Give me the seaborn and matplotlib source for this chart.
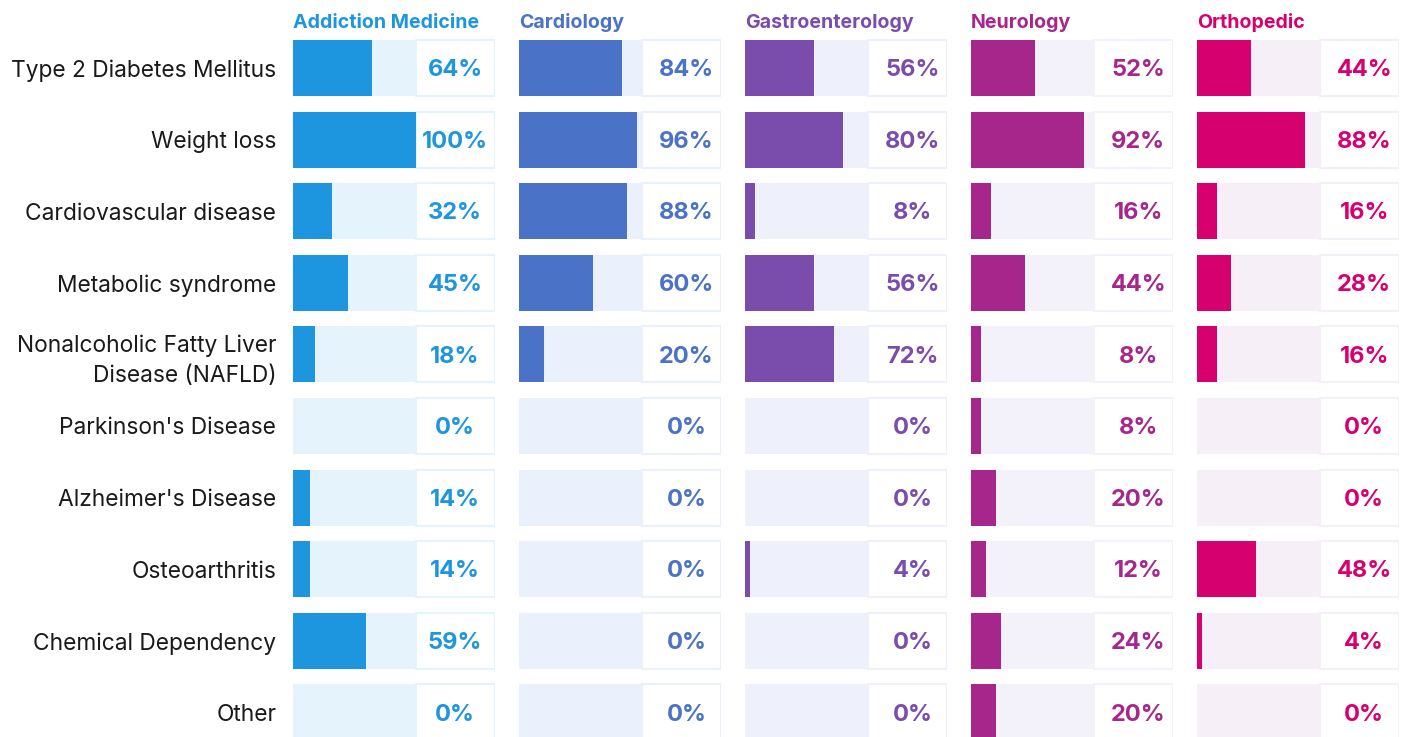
import pandas as pd
import matplotlib.pyplot as plt
import seaborn as sns

# conditions (rows) and specialties (panels)
conditions = ['Type 2 Diabetes Mellitus', 'Weight loss', 'Cardiovascular disease',
              'Metabolic syndrome', 'Nonalcoholic Fatty Liver\nDisease (NAFLD)',
              "Parkinson's Disease", "Alzheimer's Disease", 'Osteoarthritis',
              'Chemical Dependency', 'Other']
specialties = ['Addiction Medicine', 'Cardiology', 'Gastroenterology', 'Neurology', 'Orthopedic']

# percentages per specialty
addiction = [64, 100, 32, 45, 18, 0, 14, 14, 59, 0]
cardiology = [84, 96, 88, 60, 20, 0, 0, 0, 0, 0]
gastro = [56, 80, 8, 56, 72, 0, 0, 4, 0, 0]
neurology = [52, 92, 16, 44, 8, 8, 20, 12, 24, 20]
orthopedic = [44, 88, 16, 28, 16, 0, 0, 48, 4, 0]
values = [addiction, cardiology, gastro, neurology, orthopedic]

colors = ['#1E96DF', '#4A72C6', '#7A4CAB', '#A7268B', '#D6006F']
track_colors = ['#E5F3FD', '#EAF0FC', '#EEF1FC', '#F3F1FA', '#F7EFF7']

sns.set_style('white')
plt.rcParams['font.family'] = ['Inter', 'DejaVu Sans']

W, H = 1405, 737
fig = plt.figure(figsize=(W / 100, H / 100), dpi=100)

track_px = 123          # width of the 0-100% track
box_px = 79             # width of the value box
panel_px = track_px + box_px
box_w = box_px / track_px * 100
top_px = 32.2
row_px = 71.6
bar_h = 56 / row_px

value_texts = []
for i, name in enumerate(specialties):
    x0 = 293 + 226 * i
    ax = fig.add_axes([x0 / W, 0, panel_px / W, (H - top_px) / H])
    df = pd.DataFrame({'condition': conditions, 'value': values[i]})
    df['full'] = 100

    # light background track
    sns.barplot(data=df, x='full', y='condition', ax=ax, color=track_colors[i],
                saturation=1, width=bar_h, linewidth=0)
    # white value box
    ax.barh(range(len(conditions)), box_w, left=100, height=bar_h,
            color='white', edgecolor=track_colors[i], linewidth=1.5)
    # value bar
    sns.barplot(data=df, x='value', y='condition', ax=ax, color=colors[i],
                saturation=1, width=bar_h, linewidth=0)

    ax.set_xlim(0, 100 + box_w)
    ax.set_ylim(-0.5 + (H - top_px) / row_px, -0.5)
    ax.set_xlabel('')
    ax.set_ylabel('')
    ax.set_xticks([])
    sns.despine(ax=ax, left=True, bottom=True)
    ax.tick_params(axis='y', length=0, pad=12)
    if i == 0:
        for lab in ax.get_yticklabels():
            lab.set_fontsize(16.4)
            lab.set_color('#1A1A1A')
            lab.set_linespacing(1.45)
    else:
        ax.set_yticklabels([])

    fig.text(x0 / W, 1 - 28 / H, name, color=colors[i], fontsize=14.1,
             fontweight='bold', va='baseline', ha='left')

    texts = []
    for j, v in enumerate(values[i]):
        t = ax.text(150, j + 0.03, f'{v}%', color=colors[i], fontsize=17,
                    fontweight='bold', ha='center', va='center')
        texts.append(t)
    value_texts.append(texts)

# centre labels in a column that ends 7px before the box edge
fig.canvas.draw()
r = fig.canvas.get_renderer()
for texts in value_texts:
    w = max(t.get_window_extent(r).width for t in texts)
    for t in texts:
        t.set_x((panel_px - 7 - w / 2) / track_px * 100)

fig.savefig('out.png', dpi=100)
